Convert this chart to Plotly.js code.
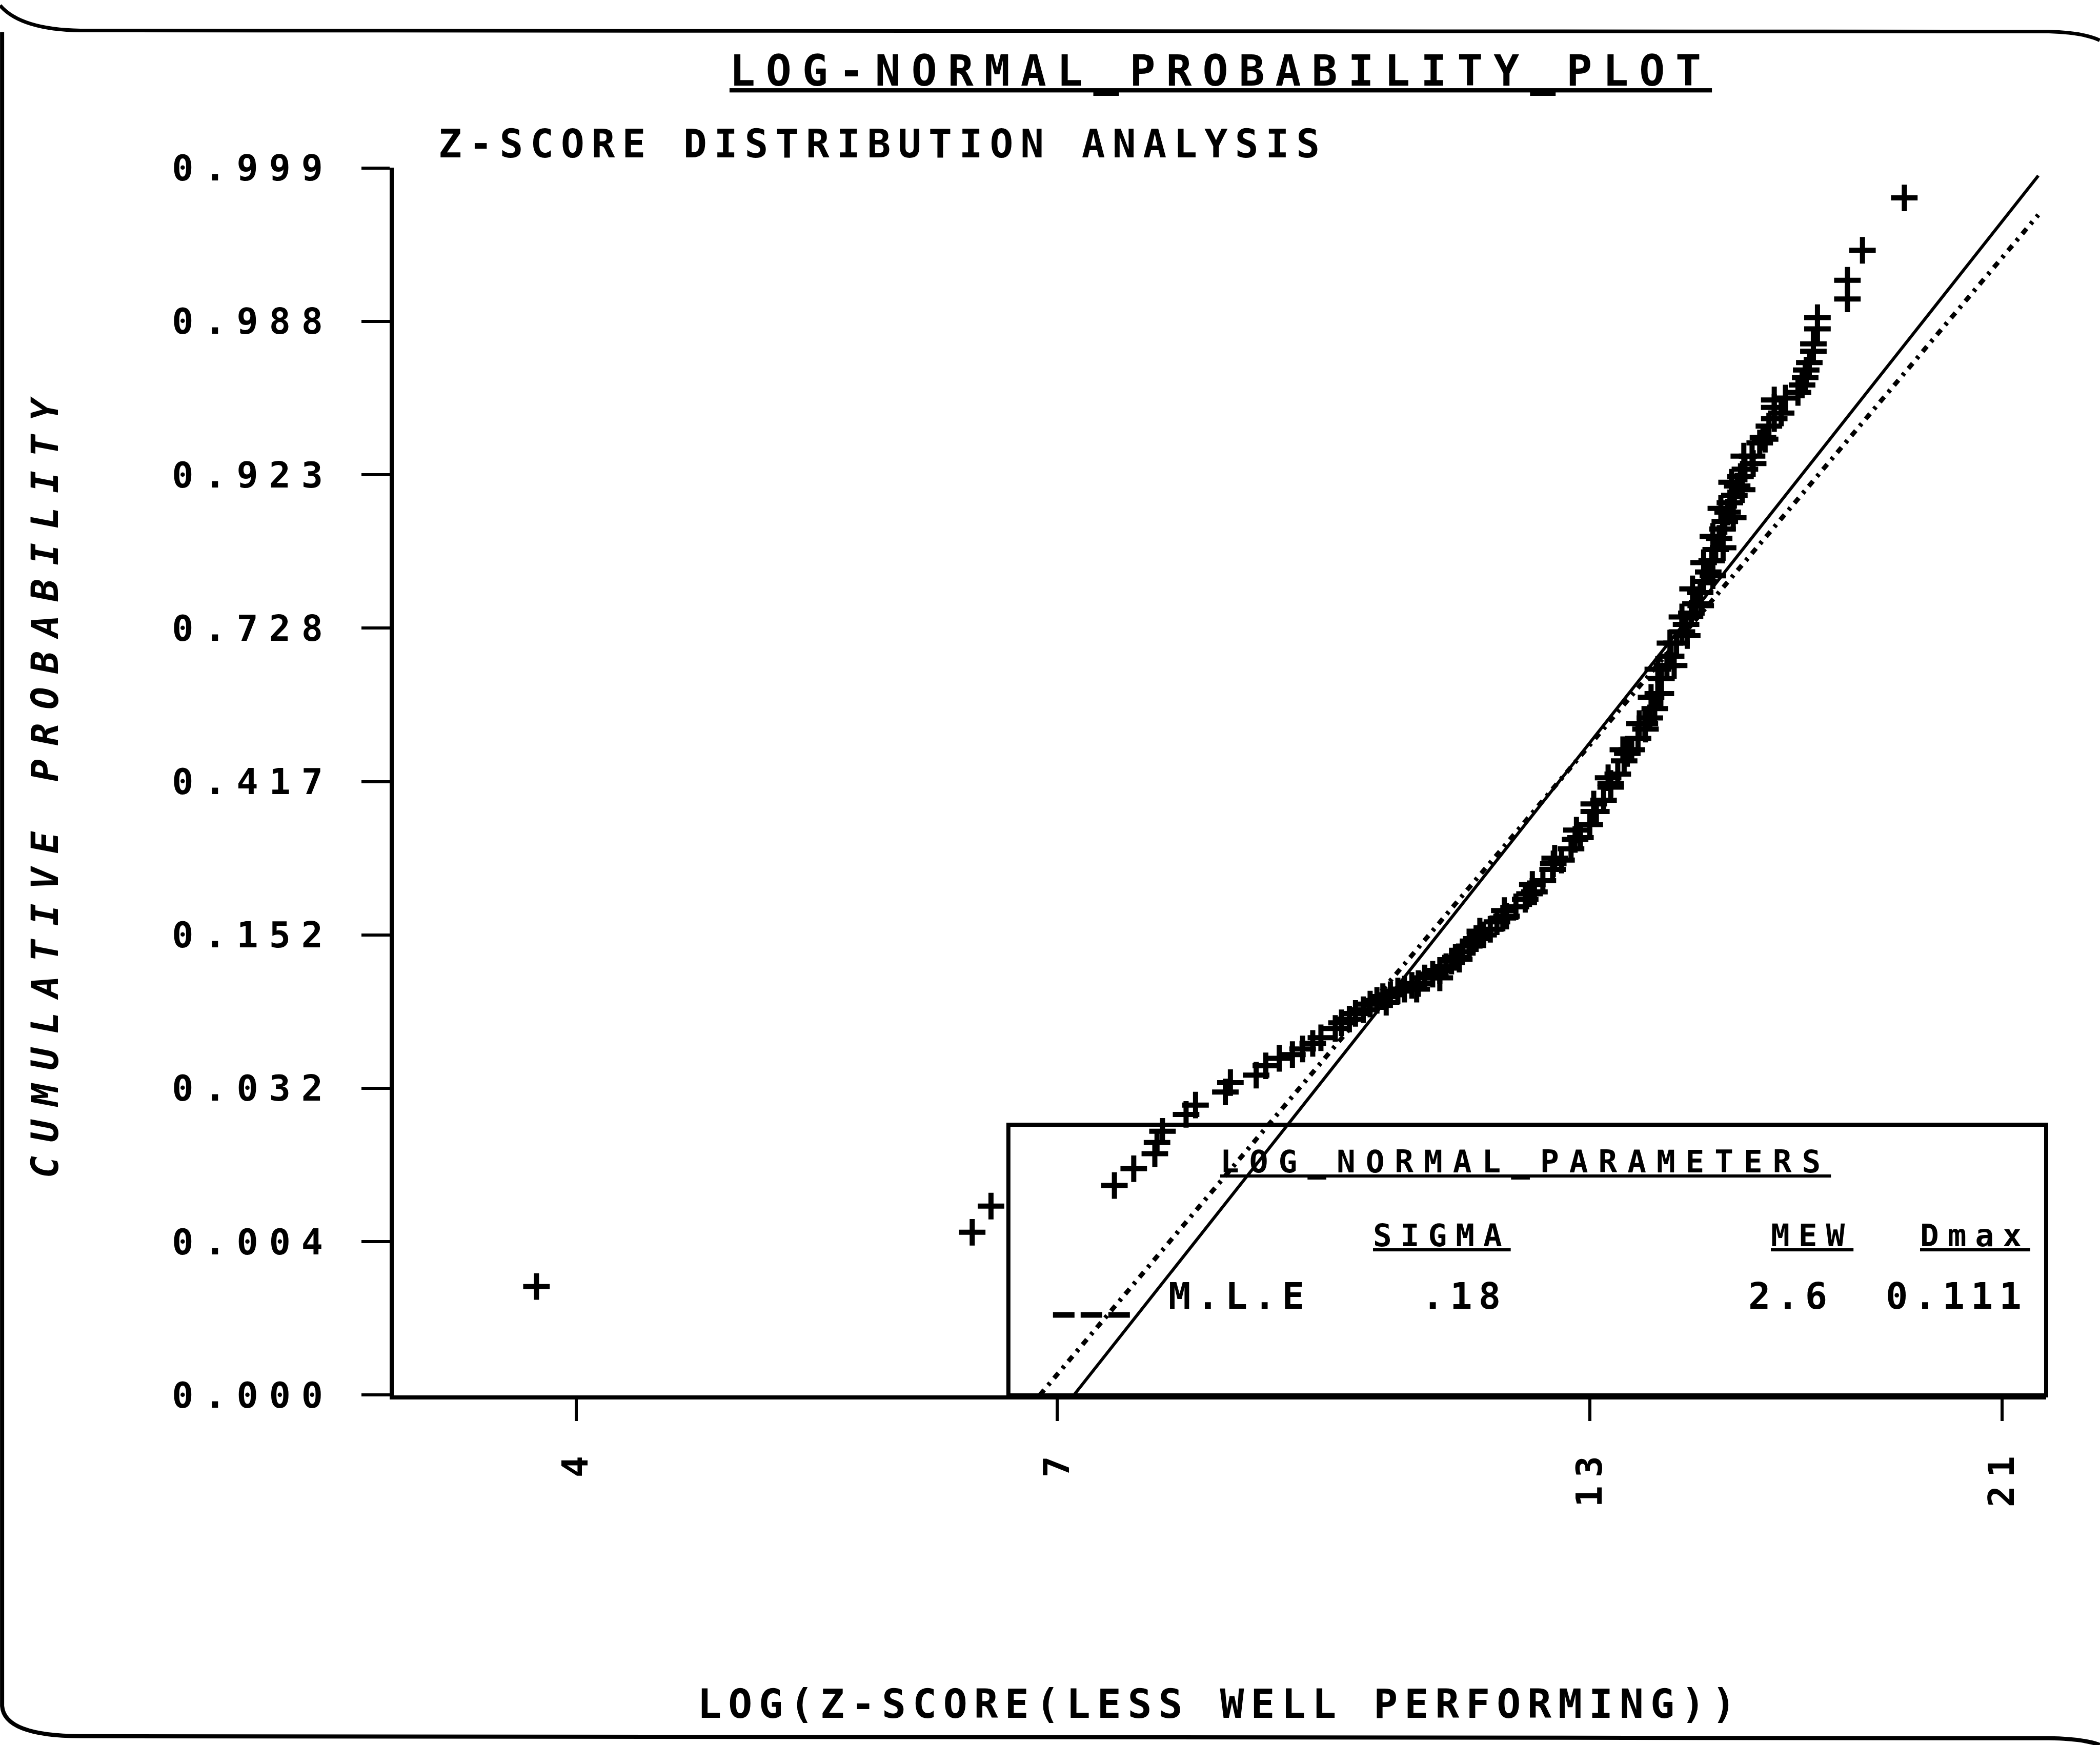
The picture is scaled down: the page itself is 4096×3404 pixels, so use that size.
<!DOCTYPE html>
<html>
<head>
<meta charset="utf-8">
<script src="https://cdn.plot.ly/plotly-3.0.1.min.js"></script>
<style>
  html, body { margin: 0; padding: 0; background: #fff; }
  #chart { width: 4096px; height: 3404px; }
</style>
</head>
<body>
<div id="chart"></div>
<script>
// Ranked z-scores of the less well performing group (x, log scale)
const zScore = [3.82, 6.34, 6.48, 7.48, 7.65, 7.84, 7.86, 7.91, 8.13, 8.22, 8.51, 8.56, 8.82, 8.92, 9.06, 9.20, 9.31, 9.42, 9.51, 9.67,
  9.74, 9.83, 9.90, 9.99, 10.07, 10.15, 10.22, 10.26, 10.31, 10.40, 10.48, 10.57, 10.63, 10.65, 10.73, 10.83, 10.92, 10.92, 11.00, 11.07,
  11.12, 11.17, 11.21, 11.30, 11.35, 11.39, 11.44, 11.49, 11.58, 11.67, 11.75, 11.77, 11.80, 11.93, 12.06, 12.12, 12.16, 12.19, 12.31, 12.45,
  12.46, 12.48, 12.58, 12.72, 12.78, 12.80, 12.86, 13.00, 13.06, 13.06, 13.10, 13.21, 13.28, 13.32, 13.32, 13.43, 13.51, 13.53, 13.58, 13.65,
  13.75, 13.77, 13.86, 13.87, 13.94, 13.96, 14.02, 14.07, 14.07, 14.12, 14.13, 14.22, 14.27, 14.29, 14.34, 14.38, 14.47, 14.47, 14.54, 14.56,
  14.63, 14.65, 14.70, 14.78, 14.79, 14.84, 14.84, 14.92, 14.98, 15.00, 15.00, 15.05, 15.11, 15.14, 15.17, 15.18, 15.21, 15.26, 15.30, 15.33,
  15.36, 15.38, 15.43, 15.49, 15.52, 15.55, 15.57, 15.70, 15.72, 15.84, 15.90, 15.94, 16.01, 16.11, 16.11, 16.11, 16.24, 16.32, 16.56, 16.64,
  16.70, 16.72, 16.78, 16.86, 16.86, 16.94, 16.94, 17.54, 17.54, 17.85, 18.74];

// Normal scores of their cumulative probabilities (y, probability scale)
const normalScore = [-2.89, -2.60, -2.46, -2.35, -2.26, -2.18, -2.12, -2.06, -1.97, -1.92, -1.85, -1.80, -1.76, -1.71, -1.67, -1.65, -1.62, -1.59, -1.56, -1.51,
  -1.48, -1.46, -1.43, -1.41, -1.38, -1.36, -1.34, -1.37, -1.33, -1.31, -1.30, -1.28, -1.30, -1.27, -1.24, -1.22, -1.20, -1.24, -1.18, -1.15,
  -1.13, -1.14, -1.10, -1.07, -1.05, -1.03, -0.99, -1.01, -0.98, -0.94, -0.92, -0.88, -0.91, -0.86, -0.82, -0.79, -0.74, -0.78, -0.72, -0.66,
  -0.63, -0.60, -0.61, -0.55, -0.50, -0.45, -0.49, -0.42, -0.35, -0.31, -0.35, -0.29, -0.17, -0.22, -0.20, -0.15, -0.02, -0.08, -0.04, -0.02,
  0.04, 0.12, 0.12, 0.09, 0.15, 0.26, 0.20, 0.28, 0.41, 0.28, 0.36, 0.43, 0.55, 0.48, 0.43, 0.55, 0.61, 0.69, 0.65, 0.59,
  0.71, 0.84, 0.76, 0.82, 0.75, 0.88, 0.98, 0.93, 0.99, 0.91, 1.12, 1.05, 1.11, 1.27, 1.16, 1.06, 1.20, 1.25, 1.30, 1.41,
  1.22, 1.34, 1.39, 1.44, 1.37, 1.55, 1.48, 1.55, 1.51, 1.62, 1.65, 1.64, 1.71, 1.75, 1.81, 1.85, 1.78, 1.86, 1.89, 1.93,
  1.97, 2.01, 2.05, 2.11, 2.15, 2.23, 2.29, 2.39, 2.49, 2.65, 2.93];

// Probability-axis labels, top to bottom, and score-axis ticks
const probTickLabels = ['0.999', '0.988', '0.923', '0.728', '0.417', '0.152', '0.032', '0.004', '0.000'];
const scoreTicks = [4, 7, 13, 21];

// Fitted log-normal parameters
const MLE_SIGMA = 0.184;
const MLE_MEW = 2.564;
const MLE_DMAX = 0.111;
const REF_SIGMA = 0.172;
const REF_MEW = 2.562;
const FIT_X_END = 21.9;

// ---- layout geometry (window pixels) ----
const W = 4096, H = 3404;
const PLOT_L = 768, PLOT_R = 3991.5, PLOT_T = 326.5, PLOT_B = 2722;
const px2x = v => (v - PLOT_L) / (PLOT_R - PLOT_L);
const px2y = v => (PLOT_B - v) / (PLOT_B - PLOT_T);
const P = (wx, wy) => px2x(wx).toFixed(5) + ',' + px2y(wy).toFixed(5);
const spaced = (t, ls) => '<span style="letter-spacing:' + ls + 'px">' + t + '</span>';
const MONO = '"DejaVu Sans Mono", "Liberation Mono", monospace';
const font = (size, extra) => Object.assign({ family: MONO, size: size, color: '#000', weight: 'bold' }, extra || {});

// probability ticks sit at equal normal-score steps
const Z_TOP = 3.09, Z_STEP = 0.82;
const probTickVals = probTickLabels.map((_, i) => Z_TOP - i * Z_STEP);
const Z_BOTTOM = probTickVals[probTickVals.length - 1];

function fitLine(mew, sigma) {
  const xStart = Math.exp(mew + sigma * Z_BOTTOM);
  return { x: [xStart, FIT_X_END], y: [Z_BOTTOM, (Math.log(FIT_X_END) - mew) / sigma] };
}
const mleLine = fitLine(MLE_MEW, MLE_SIGMA);
const refLine = fitLine(REF_MEW, REF_SIGMA);

const traces = [
  {
    type: 'scatter', mode: 'lines', x: refLine.x, y: refLine.y,
    line: { color: '#000', width: 6 }, hoverinfo: 'skip'
  },
  {
    type: 'scatter', mode: 'lines', x: mleLine.x, y: mleLine.y,
    line: { color: '#000', width: 9, dash: '13px,12px,6px,12px' }, hoverinfo: 'skip'
  },
  {
    type: 'scatter', mode: 'markers', x: zScore, y: normalScore,
    marker: { symbol: 'cross-thin', size: 37, color: '#000', line: { color: '#000', width: 10 } }
  }
];

const sigmaText = MLE_SIGMA.toFixed(2).replace(/^0/, '');
const mewText = MLE_MEW.toFixed(1);
const dmaxText = MLE_DMAX.toFixed(3);

const hdrFont = font(61);
const rowFont = font(72);
const ann = (text, wx, wy, xanchor, f) => ({
  text: text, x: px2x(wx), y: px2y(wy), xref: 'paper', yref: 'paper',
  xanchor: xanchor, yanchor: 'middle', showarrow: false, font: f, borderpad: 0
});

const annotations = [
  ann(spaced('Z-SCORE DISTRIBUTION ANALYSIS', 14), 854, 280, 'left', font(76)),
  ann(spaced('<u>LOG_NORMAL_PARAMETERS</u>', 20), 2379, 2265, 'left', hdrFont),
  ann(spaced('<u>SIGMA</u>', 17), 2948, 2409, 'right', hdrFont),
  ann(spaced('<u>MEW</u>', 17), 3616, 2409, 'right', hdrFont),
  ann(spaced('<u>Dmax</u>', 17), 3961, 2409, 'right', hdrFont),
  ann(spaced('M.L.E', 12), 2278, 2528, 'left', rowFont),
  ann(spaced(sigmaText, 12), 2940, 2528, 'right', rowFont),
  ann(spaced(mewText, 12), 3577, 2528, 'right', rowFont),
  ann(spaced(dmaxText, 12), 3956, 2528, 'right', rowFont)
];

const shapes = [
  // parameter box
  { type: 'rect', xref: 'paper', yref: 'paper', x0: px2x(1967), x1: 1, y0: 0, y1: px2y(2194),
    line: { color: '#000', width: 8 }, fillcolor: 'rgba(0,0,0,0)' },
  // legend sample for the M.L.E line
  { type: 'line', xref: 'paper', yref: 'paper', x0: px2x(2054), x1: px2x(2212), y0: px2y(2565), y1: px2y(2565),
    line: { color: '#000', width: 11, dash: '42px,12px' } },
  // page frame
  { type: 'path', xref: 'paper', yref: 'paper',
    path: 'M' + P(0, 10) + ' Q' + P(40, 57) + ' ' + P(157, 59) + ' L' + P(3997, 61) + ' Q' + P(4064, 63) + ' ' + P(4096, 78),
    line: { color: '#000', width: 7 } },
  { type: 'path', xref: 'paper', yref: 'paper',
    path: 'M' + P(4, 62) + ' L' + P(4, 3328) + ' Q' + P(8, 3386) + ' ' + P(157, 3387) + ' L' + P(3997, 3391) + ' Q' + P(4065, 3392) + ' ' + P(4096, 3404),
    line: { color: '#000', width: 8 } }
];

const layout = {
  width: W, height: H,
  margin: { l: PLOT_L, r: W - PLOT_R, t: PLOT_T, b: H - PLOT_B, pad: 0 },
  paper_bgcolor: '#fff', plot_bgcolor: '#fff',
  showlegend: false,
  font: { family: MONO, color: '#000' },
  title: {
    text: spaced('<u>LOG-NORMAL_PROBABILITY_PLOT</u>', 21),
    font: font(83),
    xref: 'container', yref: 'container',
    x: 2381 / W, xanchor: 'center',
    y: 1 - 138 / H, yanchor: 'middle'
  },
  xaxis: {
    type: 'log', range: [0.510, 1.3444], autorange: false,
    tickmode: 'array', tickvals: scoreTicks, ticktext: scoreTicks.map(v => spaced(String(v), 16)),
    tickangle: -90, ticks: 'outside', ticklen: 42, tickwidth: 6, tickcolor: '#000',
    tickfont: font(70), ticklabelstandoff: 24,
    showline: true, linewidth: 8, linecolor: '#000',
    showgrid: false, zeroline: false, automargin: false,
    title: {
      text: spaced('LOG(Z-SCORE(LESS WELL PERFORMING))', 13),
      font: font(78), standoff: 360
    }
  },
  yaxis: {
    range: [Z_BOTTOM - 0.002, Z_TOP + 0.002], autorange: false,
    tickmode: 'array', tickvals: probTickVals, ticktext: probTickLabels.map(t => spaced(t, 21)),
    ticks: 'outside', ticklen: 55, tickwidth: 6, tickcolor: '#000',
    tickfont: font(70), ticklabelstandoff: 40,
    showline: true, linewidth: 8, linecolor: '#000',
    showgrid: false, zeroline: false, automargin: false,
    title: {
      text: spaced('CUMULATIVE PROBABILITY', 27),
      font: font(72, { style: 'italic' }), standoff: 201
    }
  },
  shapes: shapes,
  annotations: annotations
};

Plotly.newPlot('chart', traces, layout, { staticPlot: true, displayModeBar: false });
</script>
</body>
</html>
